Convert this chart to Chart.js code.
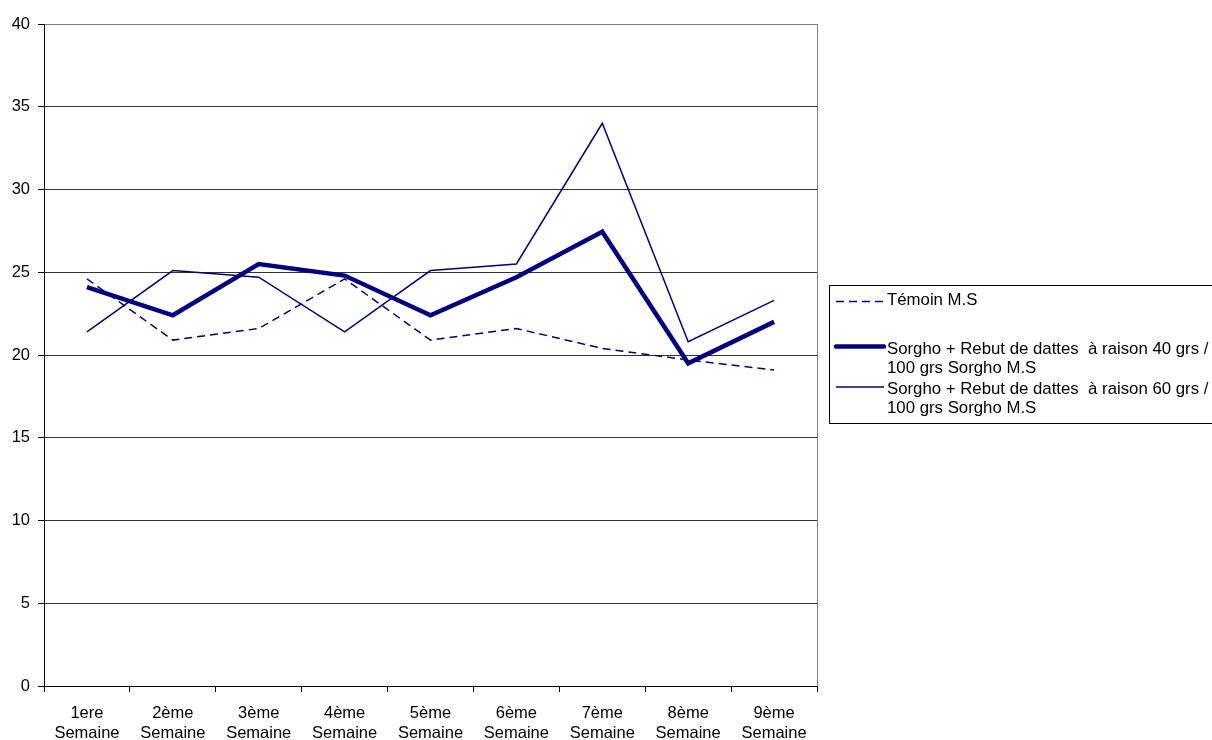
<!DOCTYPE html>
<html>
<head>
<meta charset="utf-8">
<script src="https://cdn.jsdelivr.net/npm/chart.js@4.4.1/dist/chart.umd.min.js"></script>
<style>
  html, body { margin: 0; padding: 0; background: #fff; }
  #wrap { width: 1212px; height: 740px; overflow: hidden; }
</style>
</head>
<body>
<div id="wrap"><canvas id="c" width="1212" height="740"></canvas></div>
<script>
// Weekly measurements (M.S) for the three rations
const weeks = [
  ['1ere', 'Semaine'], ['2ème', 'Semaine'], ['3ème', 'Semaine'],
  ['4ème', 'Semaine'], ['5ème', 'Semaine'], ['6ème', 'Semaine'],
  ['7ème', 'Semaine'], ['8ème', 'Semaine'], ['9ème', 'Semaine']
];
const temoin = [24.6, 20.9, 21.6, 24.6, 20.9, 21.6, 20.4, 19.7, 19.1];
const rebut40 = [24.1, 22.4, 25.5, 24.8, 22.4, 24.7, 27.45, 19.5, 22.0];
const rebut60 = [21.4, 25.1, 24.7, 21.4, 25.1, 25.5, 34.0, 20.8, 23.3];

const seriesNames = [
  ['Témoin M.S'],
  ['Sorgho + Rebut de dattes  à raison 40 grs /', '100 grs Sorgho M.S'],
  ['Sorgho + Rebut de dattes  à raison 60 grs /', '100 grs Sorgho M.S']
];
const yTicks = [0, 5, 10, 15, 20, 25, 30, 35, 40];

const NAVY = '#000080';
const FONT = '"Liberation Sans", Arial, sans-serif';

// Boxed legend on the right-hand side
const boxLegend = {
  id: 'boxLegend',
  afterDraw(chart) {
    const ctx = chart.ctx;
    const ds = chart.data.datasets;
    const textRows = [300.5, 349, 389];
    const lineRows = [301.5, 346.5, 387];
    ctx.save();
    ctx.strokeStyle = '#000';
    ctx.lineWidth = 1;
    ctx.strokeRect(829.5, 285.5, 400, 138);
    ctx.font = '16.8px ' + FONT;
    ctx.fillStyle = '#000';
    ctx.textBaseline = 'middle';
    ctx.textAlign = 'left';
    ds.forEach((d, i) => {
      const y = lineRows[i];
      ctx.beginPath();
      ctx.strokeStyle = d.borderColor;
      ctx.lineWidth = d.borderWidth;
      ctx.setLineDash(d.borderDash || []);
      ctx.lineCap = d.borderWidth > 2 ? 'round' : 'butt';
      ctx.moveTo(836, y);
      ctx.lineTo(884, y);
      ctx.stroke();
      ctx.setLineDash([]);
      seriesNames[i].forEach((t, k) => {
        ctx.fillText(t, 887, textRows[i] + k * 19.5);
      });
    });
    // plot frame: right edge
    ctx.strokeStyle = '#808080';
    ctx.lineWidth = 1;
    const a = chart.chartArea;
    ctx.beginPath();
    ctx.moveTo(Math.round(a.right) + 0.5, a.top);
    ctx.lineTo(Math.round(a.right) + 0.5, a.bottom);
    ctx.stroke();
    ctx.restore();
  }
};

new Chart(document.getElementById('c'), {
  type: 'line',
  data: {
    labels: weeks,
    datasets: [
      { label: seriesNames[0].join(' '), data: temoin, borderColor: NAVY, borderWidth: 1.5, borderDash: [8, 5] },
      { label: seriesNames[1].join(' '), data: rebut40, borderColor: NAVY, borderWidth: 4.5 },
      { label: seriesNames[2].join(' '), data: rebut60, borderColor: NAVY, borderWidth: 1.5 }
    ]
  },
  options: {
    responsive: false,
    devicePixelRatio: 1,
    animation: false,
    layout: { padding: { top: 24, right: 395, left: 0, bottom: 0 } },
    elements: { point: { radius: 0 }, line: { tension: 0, fill: false } },
    plugins: { legend: { display: false }, tooltip: { enabled: false } },
    scales: {
      x: {
        offset: true,
        afterFit(s) { s.height = 54; },
        grid: { offset: true, drawOnChartArea: false, drawTicks: true, tickLength: 6, color: '#000' },
        border: { display: true, color: '#000', width: 1 },
        ticks: { color: '#000', font: { family: FONT, size: 16.5 }, padding: 12, maxRotation: 0, autoSkip: false }
      },
      y: {
        min: 0, max: 40,
        afterFit(s) { s.width = 44; },
        afterBuildTicks(s) { s.ticks = yTicks.map(v => ({ value: v })); },
        grid: {
          color: c => (c.tick && c.tick.value === 40) ? '#808080' : '#333',
          tickColor: '#000', tickLength: 6, drawTicks: true
        },
        border: { display: true, color: '#000', width: 1 },
        ticks: { color: '#000', font: { family: FONT, size: 16.5 }, padding: 8 }
      }
    }
  },
  plugins: [boxLegend]
});
</script>
</body>
</html>
